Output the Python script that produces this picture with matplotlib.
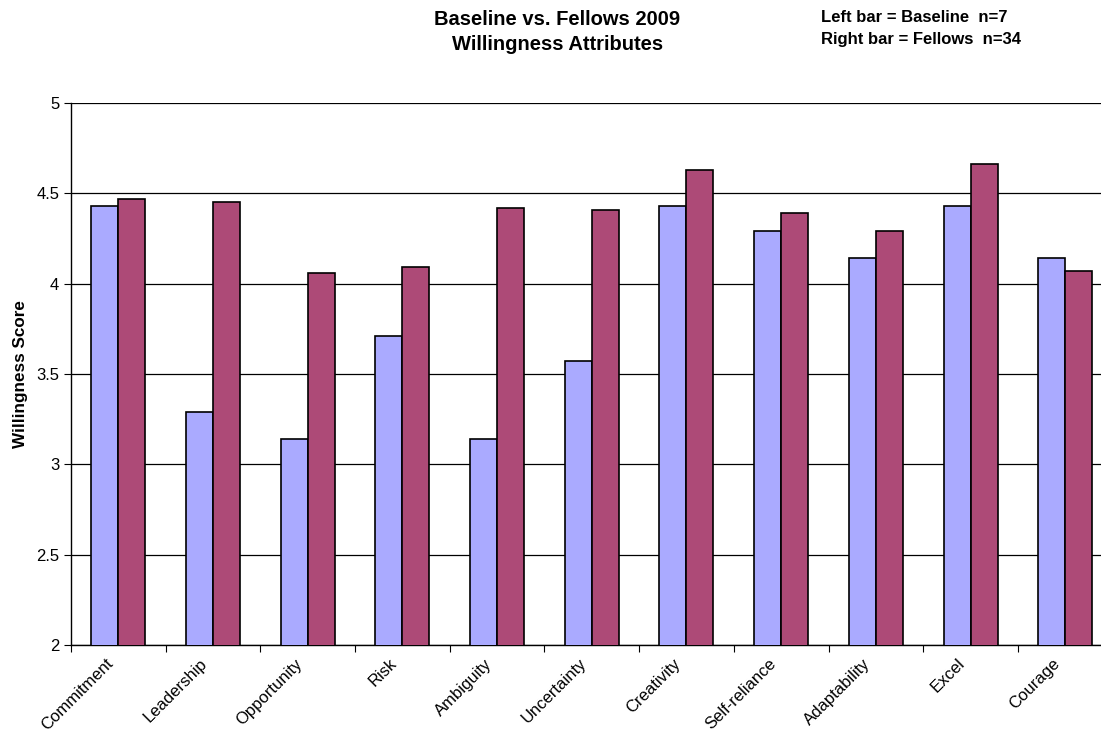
import numpy as np
import matplotlib.pyplot as plt

plt.rcParams['font.family'] = ['Liberation Sans', 'DejaVu Sans']

categories = ['Commitment', 'Leadership', 'Opportunity', 'Risk', 'Ambiguity',
              'Uncertainty', 'Creativity', 'Self-reliance', 'Adaptability',
              'Excel', 'Courage']
baseline = [4.43, 3.29, 3.14, 3.71, 3.14, 3.57, 4.43, 4.29, 4.14, 4.43, 4.14]
fellows = [4.47, 4.45, 4.06, 4.09, 4.42, 4.41, 4.63, 4.39, 4.29, 4.66, 4.07]
yticks = [2, 2.5, 3, 3.5, 4, 4.5, 5]
ytick_labels = ['2', '2.5', '3', '3.5', '4', '4.5', '5']

fig = plt.figure(figsize=(11.01, 7.40), dpi=100)
ax = fig.add_axes([0.0645, 0.1284, 0.946, 0.7324])

x = np.arange(len(categories))
w = 0.285
ax.bar(x + 0.5 - w / 2, baseline, width=w, color='#AAAAFF', edgecolor='black',
       linewidth=1.2, zorder=3)
ax.bar(x + 0.5 + w / 2, fellows, width=w, color='#AD4A77', edgecolor='black',
       linewidth=1.2, zorder=3)

ax.set_xlim(0, len(categories))
ax.set_ylim(2, 5)
ax.set_yticks(yticks)
ax.set_yticklabels(ytick_labels, fontsize=12)
ax.yaxis.grid(True, color='black', linewidth=0.9, zorder=0)
ax.set_axisbelow(True)

# category names sit on minor ticks, slightly left of the bar-pair centre
ax.set_xticks(x)
ax.set_xticks(x + 0.36, minor=True)
ax.set_xticklabels([])
ax.set_xticklabels(categories, minor=True, rotation=45, ha='right',
                   rotation_mode='anchor', fontsize=12)
ax.tick_params(axis='x', which='minor', length=0, pad=8)
ax.tick_params(axis='x', which='major', length=5, direction='out')
ax.tick_params(axis='y', length=5, direction='out')

for side in ['top', 'right']:
    ax.spines[side].set_visible(False)
ax.spines['left'].set_linewidth(1)
ax.spines['bottom'].set_linewidth(1)

ax.set_ylabel('Willingness Score', fontsize=12.3, fontweight='bold', labelpad=6)

fig.text(0.506, 0.986, 'Baseline vs. Fellows 2009\nWillingness Attributes',
         ha='center', va='top', fontsize=14.5, fontweight='bold', linespacing=1.35)
fig.text(0.746, 0.987, 'Left bar = Baseline  n=7\nRight bar = Fellows  n=34',
         ha='left', va='top', fontsize=12, fontweight='bold', linespacing=1.65)

fig.savefig('out.png', dpi=100)
